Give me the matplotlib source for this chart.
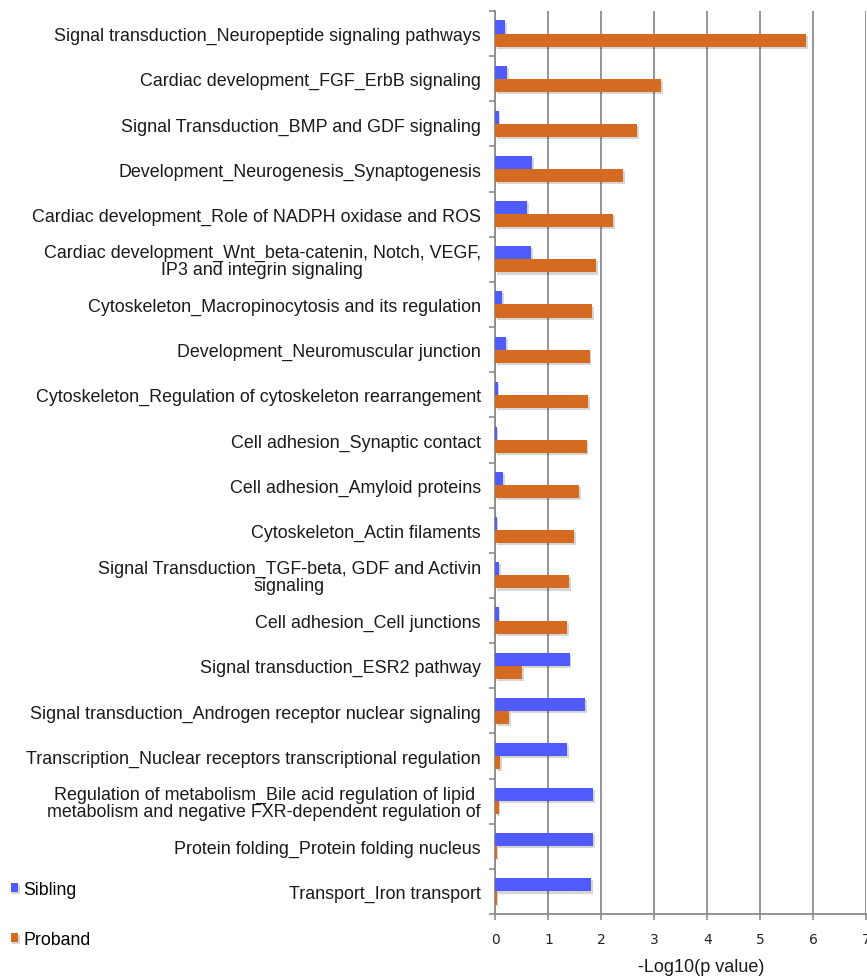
import matplotlib
matplotlib.use("Agg")
import matplotlib.pyplot as plt
import matplotlib.patheffects as pe
import numpy as np

categories = [
    "Signal transduction_Neuropeptide signaling pathways",
    "Cardiac development_FGF_ErbB signaling",
    "Signal Transduction_BMP and GDF signaling",
    "Development_Neurogenesis_Synaptogenesis",
    "Cardiac development_Role of NADPH oxidase and ROS",
    "Cardiac development_Wnt_beta-catenin, Notch, VEGF,\nIP3 and integrin signaling",
    "Cytoskeleton_Macropinocytosis and its regulation",
    "Development_Neuromuscular junction",
    "Cytoskeleton_Regulation of cytoskeleton rearrangement",
    "Cell adhesion_Synaptic contact",
    "Cell adhesion_Amyloid proteins",
    "Cytoskeleton_Actin filaments",
    "Signal Transduction_TGF-beta, GDF and Activin\nsignaling",
    "Cell adhesion_Cell junctions",
    "Signal transduction_ESR2 pathway",
    "Signal transduction_Androgen receptor nuclear signaling",
    "Transcription_Nuclear receptors transcriptional regulation",
    "Regulation of metabolism_Bile acid regulation of lipid\nmetabolism and negative FXR-dependent regulation of",
    "Protein folding_Protein folding nucleus",
    "Transport_Iron transport",
]

sibling = [0.18, 0.22, 0.06, 0.69, 0.60, 0.68, 0.13, 0.20, 0.04, 0.025,
           0.145, 0.02, 0.075, 0.06, 1.40, 1.69, 1.35, 1.85, 1.85, 1.81]
proband = [5.87, 3.13, 2.68, 2.41, 2.22, 1.90, 1.83, 1.78, 1.75, 1.72,
           1.58, 1.48, 1.39, 1.35, 0.51, 0.26, 0.09, 0.06, 0.025, 0.02]

x_ticks = [0, 1, 2, 3, 4, 5, 6, 7]
x_label = "-Log10(p value)"
series_names = ["Sibling", "Proband"]

BLUE = "#4f5cfb"
ORANGE = "#d46b20"
GRID = "#8c8c8c"
LABEL_FONT = "Liberation Sans"

fig = plt.figure(figsize=(8.67, 9.78), dpi=100)
ax = fig.add_axes([495.5 / 867, 1 - 915 / 978, (866 - 495.5) / 867, (915 - 12) / 978])

y = np.arange(len(categories))
h = 0.29
shadow = [pe.SimplePatchShadow(offset=(1.2, -1.5), shadow_rgbFace="#000000", alpha=0.16),
          pe.Normal()]
b_sib = ax.barh(y - h / 2, sibling, height=h, color=BLUE, zorder=3, label=series_names[0])
b_pro = ax.barh(y + h / 2, proband, height=h, color=ORANGE, zorder=3, label=series_names[1])
for bar in list(b_sib) + list(b_pro):
    bar.set_path_effects(shadow)

ax.set_xlim(0, 7)
ax.set_ylim(len(categories) - 0.5, -0.5)

# vertical gridlines
ax.set_xticks(x_ticks)
ax.xaxis.grid(True, color=GRID, linewidth=1.3, zorder=0)
ax.set_axisbelow(True)

# category labels (multi-line ones centred), boundary ticks between rows
ax.set_yticks(y)
ax.set_yticklabels(categories, fontsize=12.9, family=LABEL_FONT,
                   multialignment="center", color="#1a1a1a", linespacing=0.95)
ax.set_yticks(np.arange(len(categories) + 1) - 0.5, minor=True)
ax.tick_params(axis="y", which="minor", length=4, width=1.2, color=GRID, direction="out")
ax.tick_params(axis="y", which="major", length=0, pad=10.5)

ax.tick_params(axis="x", which="major", length=4, width=1.2, color=GRID, direction="out",
               labelsize=10, labelcolor="#222222", pad=9)
for t in ax.get_xticklabels():
    t.set_family("DejaVu Sans")

ax.set_xlabel(x_label, fontsize=13, family=LABEL_FONT, color="#1a1a1a")
ax.xaxis.label.set_verticalalignment("center")
ax.xaxis.set_label_coords((701 - 495.5) / 370.5, -(968 - 915) / 903)

for side in ("top", "right"):
    ax.spines[side].set_visible(False)
for side in ("left", "bottom"):
    ax.spines[side].set_color(GRID)
    ax.spines[side].set_linewidth(1.3)

fig.legend(handles=[b_sib, b_pro], labels=series_names, loc="upper left",
           bbox_to_anchor=(-0.006, 1 - 866 / 978), frameon=False,
           handlelength=0.42, handleheight=0.42, handletextpad=0.3,
           labelspacing=1.85, prop={"family": LABEL_FONT, "size": 12.8})

fig.savefig("out.png", dpi=100)
